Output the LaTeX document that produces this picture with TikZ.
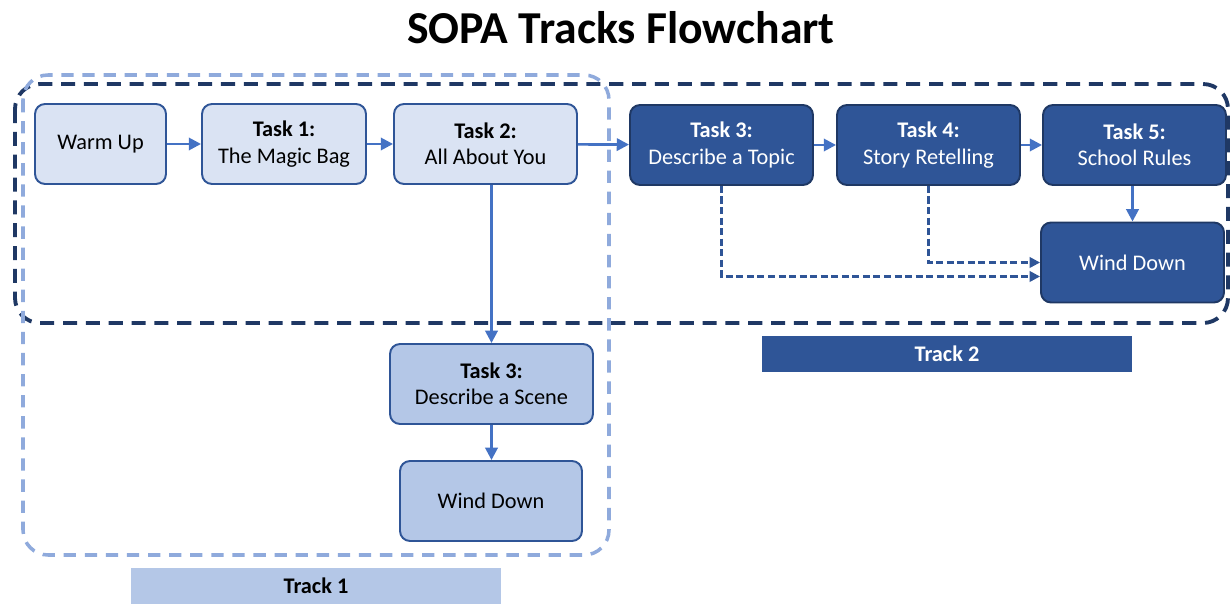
\documentclass[tikz,border=0pt]{standalone}
\usepackage{fontspec}
\setmainfont{Carlito}
\definecolor{paleblue}{RGB}{218, 227, 243}
\definecolor{midblue}{RGB}{180, 199, 231}
\definecolor{deepblue}{RGB}{47, 85, 151}
\definecolor{navy}{RGB}{31, 56, 100}
\definecolor{linkblue}{RGB}{68, 114, 196}
\definecolor{dashblue}{RGB}{143, 170, 220}
\usetikzlibrary{arrows.meta}

\begin{document}
\begin{tikzpicture}[x=0.02cm, y=-0.02cm,
    every node/.style={font=\fontsize{12.7}{15}\selectfont},
    lightbox/.style={draw=deepblue, line width=1.1pt, fill=paleblue, rounded corners=0.2cm, minimum height=1.6cm, align=center},
    scenebox/.style={lightbox, fill=midblue},
    darkbox/.style={draw=navy, line width=1.1pt, fill=deepblue, text=white, rounded corners=0.2cm, minimum height=1.6cm, align=center},
    link/.style={-{Triangle[length=7pt,width=7pt]}, draw=linkblue, line width=1.5pt},
    dashlink/.style={-{Triangle[length=6pt,width=6pt]}, draw=deepblue, line width=1.4pt, dash pattern=on 4pt off 2pt}]
      \useasboundingbox (0,0) rectangle (1231,604);

      % Title
      \node[font=\fontsize{26}{30}\selectfont\bfseries] (title) at (621,28) {SOPA Tracks Flowchart};

      % Track frames
      \draw[navy, line width=2.2pt, dash pattern=on 8pt off 5pt, rounded corners=0.5cm] (15,84) rectangle (1228,323);
      \draw[dashblue, line width=2pt, dash pattern=on 7pt off 5pt, rounded corners=0.5cm] (23,75) rectangle (609,555);

      % Track 1
      \node[lightbox, minimum width=2.62cm] (warmup) at (100.5,144) {Warm Up};
      \node[lightbox, minimum width=3.28cm] (task1) at (284,144) {\textbf{Task 1:}\\The Magic Bag};
      \node[lightbox, minimum width=3.66cm] (task2) at (485.5,144) {\textbf{Task 2:}\\All About You};
      \node[scenebox, minimum width=4.06cm] (scene) at (491.5,384) {\textbf{Task 3:}\\Describe a Scene};
      \node[scenebox, minimum width=3.64cm] (winddownA) at (491,501) {Wind Down};

      % Track 2
      \node[darkbox, minimum width=3.66cm] (topic) at (721.5,145) {\textbf{Task 3:}\\Describe a Topic};
      \node[darkbox, minimum width=3.66cm] (retell) at (928.5,145) {\textbf{Task 4:}\\Story Retelling};
      \node[darkbox, minimum width=3.66cm] (rules) at (1134.5,145) {\textbf{Task 5:}\\School Rules};
      \node[darkbox, minimum width=3.66cm] (winddownB) at (1132.5,262.5) {Wind Down};

      % Labels
      \node[fill=midblue, minimum width=7.4cm, minimum height=0.74cm, font=\fontsize{12.7}{15}\selectfont\bfseries] (trackA) at (316,586) {Track 1};
      \node[fill=deepblue, text=white, minimum width=7.4cm, minimum height=0.74cm, font=\fontsize{12.7}{15}\selectfont\bfseries] (trackB) at (947,354) {Track 2};

      % Links
      \draw[link] (warmup) -- (task1);
      \draw[link] (task1) -- (task2);
      \draw[link] (task2) -- (topic);
      \draw[link] (topic) -- (retell);
      \draw[link] (retell) -- (rules);
      \draw[link] (rules.south -| winddownB.north) -- (winddownB);
      \draw[link] (scene.north |- task2.south) -- (scene.north);
      \draw[link] (scene) -- (scene.south |- winddownA.north);

      % Optional paths
      \draw[dashlink] (topic.south) |- ([yshift=-0.28cm]winddownB.west);
      \draw[dashlink] (retell.south) |- (winddownB.west);
    \end{tikzpicture}
\end{document}
